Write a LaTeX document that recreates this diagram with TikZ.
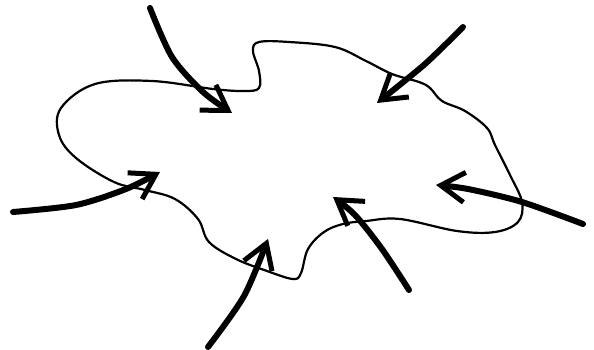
\documentclass[tikz,border=0pt]{standalone}
\usetikzlibrary{arrows.meta}
\tikzset{
  inflow/.style={line width=6pt,line cap=round,
    -{Straight Barb[length=24pt,width=30pt,line width=5pt]}},
  rim/.style={line width=2.2pt,line join=round}
}
\begin{document}
\begin{tikzpicture}[x=1pt,y=-1pt]
  \useasboundingbox (0,0) rectangle (594,350);
  % the closed region
  \draw[rim] plot[smooth cycle,tension=0.6] coordinates {
    (213,89) (152,81) (95,84) (61,108) (59,135) (76,158) (114,182)
    (145,190) (175,199) (198,219) (209,242) (236,259) (267,271)
    (293,279) (301,273) (308,249) (324,232) (343,224) (366,221)
    (400,219) (457,231) (495,232) (518,222) (522,202) (510,175)
    (495,145) (487,128) (465,111) (442,101) (430,88) (419,82)
    (392,74) (366,61) (335,47) (289,42) (259,42) (253,51) (259,71)
    (259,88) (244,91)};
  % arrows pointing in
  \draw[inflow] plot[smooth] coordinates {(150,8) (172,57) (203,92) (232,113)};
  \draw[inflow] plot[smooth] coordinates {(463,27) (425,64) (377,103)};
  \draw[inflow] plot[smooth] coordinates {(13,212) (76,205) (126,189) (160,172)};
  \draw[inflow] plot[smooth] coordinates {(208,347) (244,296) (268,239)};
  \draw[inflow] plot[smooth] coordinates {(409,290) (382,249) (355,215) (333,197)};
  \draw[inflow] plot[smooth] coordinates {(583,224) (522,202) (468,189) (436,185)};
\end{tikzpicture}
\end{document}
